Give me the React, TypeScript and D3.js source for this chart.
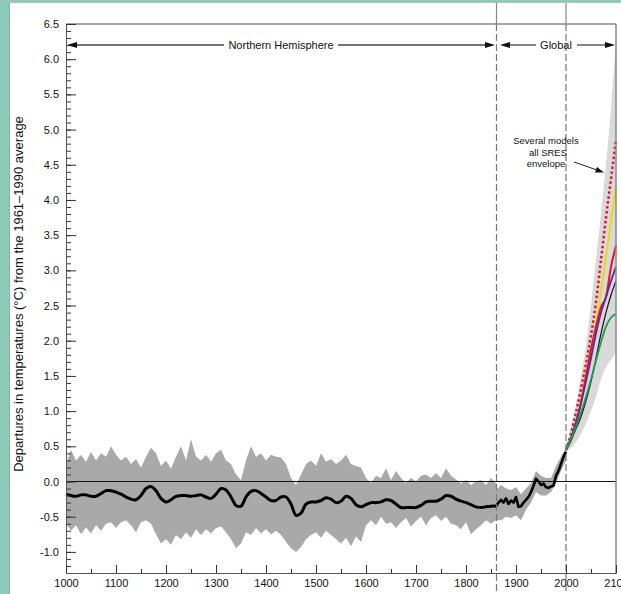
import React from 'react'
import { area, axisBottom, axisLeft, curveCatmullRom, curveLinear, curveMonotoneX, line, range, scaleLinear, select } from 'd3'

// Northern Hemisphere reconstruction, one value per decade 1000..1860
const nhYears = range(1000, 1861, 10)
const nhUpper = [
  0.25, 0.45, 0.30, 0.38, 0.28, 0.42, 0.30, 0.40, 0.35, 0.50,
  0.38, 0.30, 0.35, 0.25, 0.32, 0.20, 0.35, 0.48, 0.40, 0.22,
  0.30, 0.18, 0.35, 0.50, 0.30, 0.60, 0.35, 0.30, 0.38, 0.28,
  0.40, 0.45, 0.30, 0.25, 0.10, 0.02, 0.30, 0.50, 0.35, 0.40,
  0.30, 0.38, 0.35, 0.34, 0.25, 0.05, -0.05, 0.10, 0.25, 0.30,
  0.22, 0.40, 0.28, 0.32, 0.25, 0.30, 0.38, 0.25, 0.22, 0.20,
  0.05, -0.02, 0.08, 0.05, 0.19, 0.02, 0.15, 0.05, -0.02, 0.05,
  0.00, 0.08, 0.10, 0.05, 0.12, 0.05, 0.19, 0.08, 0.03, -0.03,
  0.02, -0.05, 0.00, 0.02, -0.05, 0.05, -0.03,
]
const nhLower = [
  -0.60, -0.70, -0.62, -0.75, -0.65, -0.74, -0.62, -0.70, -0.60, -0.58,
  -0.66, -0.58, -0.55, -0.62, -0.72, -0.58, -0.55, -0.60, -0.75, -0.88,
  -0.82, -0.90, -0.76, -0.82, -0.72, -0.80, -0.68, -0.76, -0.68, -0.74,
  -0.66, -0.64, -0.72, -0.82, -0.95, -0.88, -0.72, -0.76, -0.66, -0.74,
  -0.68, -0.75, -0.70, -0.76, -0.86, -0.95, -1.00, -0.93, -0.82, -0.76,
  -0.72, -0.80, -0.70, -0.76, -0.82, -0.88, -0.80, -0.92, -0.78, -0.86,
  -0.62, -0.55, -0.62, -0.50, -0.60, -0.58, -0.66, -0.58, -0.52, -0.64,
  -0.56, -0.50, -0.62, -0.52, -0.48, -0.56, -0.50, -0.60, -0.62, -0.68,
  -0.58, -0.75, -0.68, -0.62, -0.55, -0.60, -0.55,
]
const nhSmooth = [
  -0.18, -0.20, -0.21, -0.19, -0.19, -0.21, -0.21, -0.17, -0.13, -0.13,
  -0.15, -0.18, -0.22, -0.25, -0.26, -0.20, -0.10, -0.07, -0.13, -0.24,
  -0.29, -0.26, -0.21, -0.20, -0.20, -0.21, -0.20, -0.19, -0.22, -0.24,
  -0.18, -0.10, -0.12, -0.22, -0.34, -0.35, -0.22, -0.14, -0.13, -0.17,
  -0.22, -0.27, -0.27, -0.22, -0.22, -0.32, -0.48, -0.45, -0.32, -0.29,
  -0.29, -0.27, -0.23, -0.25, -0.30, -0.28, -0.21, -0.24, -0.33, -0.36,
  -0.33, -0.30, -0.30, -0.29, -0.26, -0.27, -0.32, -0.37, -0.37, -0.37,
  -0.37, -0.34, -0.29, -0.28, -0.28, -0.25, -0.20, -0.21, -0.25, -0.28,
  -0.30, -0.33, -0.36, -0.37, -0.36, -0.35, -0.35,
]

// global instrumental record
const obsBandYears = range(1860, 2001, 10)
const obsUpper = [-0.12, -0.05, -0.10, -0.12, -0.08, -0.18, -0.10, -0.02, 0.15, 0.08, 0.05, 0.05, 0.22, 0.35, 0.48]
const obsLower = [-0.55, -0.55, -0.50, -0.52, -0.48, -0.55, -0.40, -0.30, -0.15, -0.20, -0.20, -0.15, -0.02, 0.15, 0.30]
const obsYears = range(1860, 2001, 5)
const obsLine = [
  -0.35, -0.30, -0.26, -0.30, -0.24, -0.32, -0.27, -0.30, -0.22, -0.36,
  -0.35, -0.30, -0.26, -0.22, -0.15, -0.06, 0.04, 0.00, -0.05, -0.03,
  -0.08, -0.09, -0.07, -0.06, 0.08, 0.15, 0.25, 0.35, 0.42,
]

// SRES projections 2000..2100
const projYears = range(2000, 2101, 10)
const envUpper = [0.45, 0.78, 1.10, 1.50, 1.95, 2.50, 3.15, 3.80, 4.50, 5.30, 6.30]
const envLower = [0.42, 0.48, 0.56, 0.68, 0.82, 1.00, 1.20, 1.45, 1.62, 1.73, 1.83]
const projSeries = [
  { name: 'A1FI', color: '#e8112d', dash: '2.5,2.5', width: 2.5, values: [0.45, 0.68, 0.98, 1.32, 1.67, 2.08, 2.55, 3.15, 3.75, 4.30, 4.85] },
  { name: 'A1B', color: '#e6dc00', dash: null, width: 1.8, values: [0.45, 0.62, 0.84, 1.15, 1.52, 1.88, 2.25, 2.70, 3.20, 3.70, 4.20] },
  { name: 'A2', color: '#e8112d', dash: null, width: 2, values: [0.45, 0.60, 0.82, 1.12, 1.50, 1.88, 2.20, 2.48, 2.62, 3.05, 3.35] },
  { name: 'B2', color: '#5a2ca0', dash: null, width: 1.8, values: [0.45, 0.62, 0.85, 1.12, 1.42, 1.75, 2.10, 2.40, 2.62, 2.85, 3.05] },
  { name: 'A1T', color: '#111111', dash: null, width: 1.2, values: [0.45, 0.58, 0.75, 0.92, 1.15, 1.42, 1.75, 2.10, 2.40, 2.65, 2.85] },
  { name: 'B1', color: '#1f9a50', dash: null, width: 1.8, values: [0.45, 0.60, 0.78, 0.98, 1.20, 1.45, 1.72, 1.98, 2.20, 2.33, 2.38] },
]

const dividerYears = [1861, 2000]
const yMajor = range(-2, 14).map(i => i * 0.5)
const yMinor = range(-13, 66).map(i => i / 10)
const xMajor = range(1000, 2101, 100)
const xMinor = range(1050, 2100, 100)

const font = '"Liberation Sans", Arial, Helvetica, sans-serif'

const AxisAny = ({ axis, shift, fontSize = 11 }) => (
  <g
    transform={`translate(${shift.x},${shift.y})`}
    ref={node => {
      if (!node) return
      const g = select(node).call(axis)
      g.attr('font-family', font).attr('font-size', fontSize)
      g.select('.domain').attr('stroke', '#555')
      g.selectAll('.tick line').attr('stroke', '#333')
      g.selectAll('.tick text').attr('fill', '#111')
    }}
  />
)

const Arrow = ({ x1, x2, y }) => {
  const dir = x2 > x1 ? 1 : -1
  return (
    <g>
      <line x1={x1} x2={x2 - dir * 8} y1={y} y2={y} stroke='#444' strokeWidth='1.3' />
      <path d={`M${x2},${y}L${x2 - dir * 10},${y - 3}L${x2 - dir * 10},${y + 3}Z`} fill='#111' />
    </g>
  )
}

const App = () => {
  const m = { l: 66, r: 616, t: 24, b: 573 }
  const x = scaleLinear().domain([1000, 2100]).range([m.l, m.r])
  const y = scaleLinear().domain([-1.3, 6.5]).range([m.b, m.t])

  const band = area().x(d => x(d[0])).y0(d => y(d[1])).y1(d => y(d[2])).curve(curveLinear)
  const smooth = line().x(d => x(d[0])).y(d => y(d[1])).curve(curveCatmullRom.alpha(0.5))
  const jag = line().x(d => x(d[0])).y(d => y(d[1]))
  const proj = line().x(d => x(d[0])).y(d => y(d[1])).curve(curveMonotoneX)
  const env = area().x(d => x(d[0])).y0(d => y(d[1])).y1(d => y(d[2])).curve(curveMonotoneX)

  const nhBand = nhYears.map((yr, i) => [yr, nhLower[i], nhUpper[i]])
  const obsBand = obsBandYears.map((yr, i) => [yr, obsLower[i], obsUpper[i]])
  const envBand = projYears.map((yr, i) => [yr, envLower[i], envUpper[i]])

  const yAxis = axisLeft(y).tickValues(yMajor).tickFormat(d => d.toFixed(1)).tickSizeInner(-10).tickSizeOuter(0).tickPadding(7)
  const yAxisMinor = axisLeft(y).tickValues(yMinor).tickFormat(() => '').tickSizeInner(-5).tickSizeOuter(0)
  const xAxis = axisBottom(x).tickValues(xMajor).tickFormat(d => String(d)).tickSizeInner(-8).tickSizeOuter(0).tickPadding(6)
  const xAxisMinor = axisBottom(x).tickValues(xMinor).tickFormat(() => '').tickSizeInner(-4).tickSizeOuter(0)

  return (
    <svg width={621} height={594} style={{ position: 'absolute', left: 0, top: 0 }}>
      <rect x='0' y='0' width='621' height='594' fill='#8fcab8' />
      <rect x='9' y='2' width='612' height='592' fill='#fff' />
      <line x1='9.5' x2='9.5' y1='2' y2='594' stroke='#7fb5a4' />

      <path d={band(nhBand)} fill='#a9a9a9' />
      <path d={band(obsBand)} fill='#a9a9a9' />
      <path d={env(envBand)} fill='#d9d9d9' />

      <line x1={m.l} x2={m.r} y1={y(0)} y2={y(0)} stroke='#111' strokeWidth='1' />

      <path d={smooth(nhYears.map((yr, i) => [yr, nhSmooth[i]]))} fill='none' stroke='#000' strokeWidth='3' />
      <path d={jag(obsYears.map((yr, i) => [yr, obsLine[i]]))} fill='none' stroke='#000' strokeWidth='2.6' strokeLinejoin='round' />

      {projSeries.map(s => (
        <path key={s.name} d={proj(projYears.map((yr, i) => [yr, s.values[i]]))} fill='none'
          stroke={s.color} strokeWidth={s.width} strokeDasharray={s.dash || undefined} />
      ))}

      {dividerYears.map(yr => (
        <g key={yr}>
          <line x1={x(yr)} x2={x(yr)} y1='2' y2={m.t} stroke='#888' strokeWidth='1.2' />
          <line x1={x(yr)} x2={x(yr)} y1={m.t} y2='594' stroke='#777' strokeWidth='1.2' strokeDasharray='7,3' />
        </g>
      ))}

      <line x1={m.l} x2={m.r} y1={m.t} y2={m.t} stroke='#888' strokeWidth='1.5' />
      <line x1={m.r} x2={m.r} y1={m.t} y2={m.b} stroke='#888' strokeWidth='1.5' />
      <line x1='9' x2='621' y1='2.5' y2='2.5' stroke='#bbb' strokeWidth='1' />

      <AxisAny axis={yAxisMinor} shift={{ x: m.l, y: 0 }} />
      <AxisAny axis={yAxis} shift={{ x: m.l, y: 0 }} />
      <AxisAny axis={xAxisMinor} shift={{ x: 0, y: m.b }} />
      <AxisAny axis={xAxis} shift={{ x: 0, y: m.b }} />

      <g fontFamily={font} fill='#111'>
        <Arrow x1={224} x2={67} y={45} />
        <Arrow x1={338} x2={495} y={45} />
        <text x={281} y={49} fontSize='11' textAnchor='middle'>Northern Hemisphere</text>
        <Arrow x1={536} x2={500} y={45} />
        <Arrow x1={577} x2={615} y={45} />
        <text x={556} y={49} fontSize='11' textAnchor='middle'>Global</text>

        <text fontSize='9.5' textAnchor='middle'>
          <tspan x={546} y={144}>Several models</tspan>
          <tspan x={548} y={156}>all SRES</tspan>
          <tspan x={546} y={167}>envelope</tspan>
        </text>
        <line x1={574} y1={162} x2={597} y2={170} stroke='#222' strokeWidth='1' />
        <path d='M604,172.5L595,172.5L597,167Z' fill='#111' />

        <text transform='translate(23,294) rotate(-90)' fontSize='13' textAnchor='middle'>
          Departures in temperatures (°C) from the 1961–1990 average
        </text>
      </g>
    </svg>
  )
}

export default App
